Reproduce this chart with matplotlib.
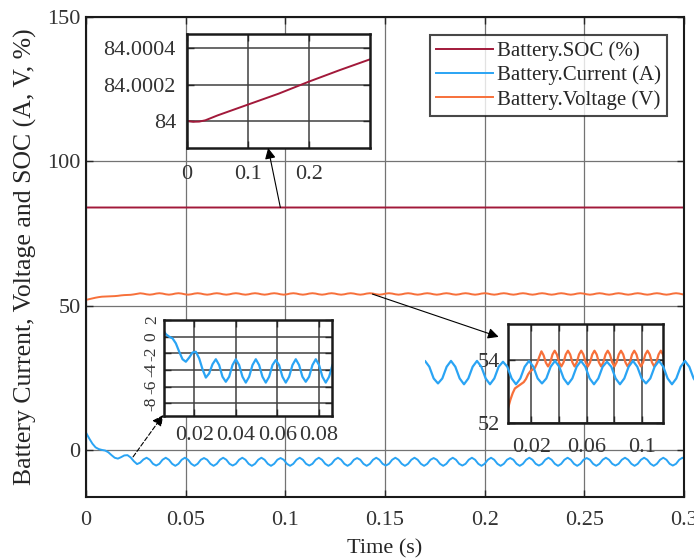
import numpy as np
import matplotlib
matplotlib.use("Agg")
import matplotlib.pyplot as plt

plt.rcParams['font.family'] = ['Liberation Serif', 'DejaVu Serif']

# ---------------- data ----------------
t_step = 0.0016  # sampling interval of the recorded series (s)

current = [
    6.0, 4.0, 2.2, 0.9, 0.3, 0.0, -0.2, -0.8, -1.8, -2.7, -3.0, -2.5, -1.9, -1.8, -2.6, -3.9,
    -4.9, -4.4, -3.3, -2.7, -3.4, -4.8,
    -5.4, -4.8, -3.4, -2.7, -3.4, -4.8,
    -5.5, -4.8, -3.4, -2.7, -3.4, -4.8,
    -5.5, -4.8, -3.4, -2.8, -3.4, -4.8,
    -5.5, -4.8, -3.4, -2.7, -3.4, -4.8,
    -5.4, -4.8, -3.4, -2.7, -3.4, -4.8,
    -5.5, -4.8, -3.4, -2.7, -3.4, -4.8,
    -5.5, -4.8, -3.4, -2.8, -3.4, -4.8,
    -5.5, -4.8, -3.4, -2.7, -3.4, -4.8,
    -5.4, -4.8, -3.4, -2.7, -3.4, -4.8,
    -5.5, -4.8, -3.4, -2.7, -3.4, -4.8,
    -5.5, -4.8, -3.4, -2.8, -3.4, -4.8,
    -5.5, -4.8, -3.4, -2.7, -3.4, -4.8,
    -5.4, -4.8, -3.4, -2.7, -3.4, -4.8,
    -5.5, -4.8, -3.4, -2.7, -3.4, -4.8,
    -5.5, -4.8, -3.4, -2.8, -3.4, -4.8,
    -5.5, -4.8, -3.4, -2.7, -3.4, -4.8,
    -5.4, -4.8, -3.4, -2.7, -3.4, -4.8,
    -5.5, -4.8, -3.4, -2.7, -3.4, -4.8,
    -5.5, -4.8, -3.4, -2.8, -3.4, -4.8,
    -5.5, -4.8, -3.4, -2.7, -3.4, -4.8,
    -5.4, -4.8, -3.4, -2.7, -3.4, -4.8,
    -5.5, -4.8, -3.4, -2.7, -3.4, -4.8,
    -5.5, -4.8, -3.4, -2.8, -3.4, -4.8,
    -5.5, -4.8, -3.4, -2.7, -3.4, -4.8,
    -5.4, -4.8, -3.4, -2.7, -3.4, -4.8,
    -5.5, -4.8, -3.4, -2.7, -3.4, -4.8,
    -5.5, -4.8, -3.4, -2.7, -3.4, -4.8,
    -5.4, -4.8, -3.4, -2.7, -3.4, -4.8,
    -5.5, -4.8, -3.4, -2.7, -3.4,
]

voltage = [
    52.0, 52.25, 52.5, 52.75, 52.95, 53.1, 53.15, 53.2, 53.25, 53.3, 53.4, 53.55, 53.65, 53.7, 53.75, 53.9,
    54.1,
    54.28, 54.15, 53.92, 53.8, 53.93, 54.18,
    54.3, 54.18, 53.93, 53.8, 53.93, 54.18,
    54.3, 54.18, 53.93, 53.8, 53.93, 54.18,
    54.3, 54.18, 53.93, 53.8, 53.93, 54.18,
    54.3, 54.18, 53.93, 53.8, 53.93, 54.18,
    54.3, 54.18, 53.93, 53.8, 53.93, 54.18,
    54.3, 54.18, 53.93, 53.8, 53.93, 54.18,
    54.3, 54.18, 53.93, 53.8, 53.93, 54.18,
    54.3, 54.18, 53.93, 53.8, 53.93, 54.18,
    54.3, 54.18, 53.93, 53.8, 53.93, 54.18,
    54.3, 54.18, 53.93, 53.8, 53.93, 54.18,
    54.3, 54.18, 53.93, 53.8, 53.93, 54.18,
    54.3, 54.18, 53.93, 53.8, 53.93, 54.18,
    54.3, 54.18, 53.93, 53.8, 53.93, 54.18,
    54.3, 54.18, 53.93, 53.8, 53.93, 54.18,
    54.3, 54.18, 53.93, 53.8, 53.93, 54.18,
    54.3, 54.18, 53.93, 53.8, 53.93, 54.18,
    54.3, 54.18, 53.93, 53.8, 53.93, 54.18,
    54.3, 54.18, 53.93, 53.8, 53.93, 54.18,
    54.3, 54.18, 53.93, 53.8, 53.93, 54.18,
    54.3, 54.18, 53.93, 53.8, 53.93, 54.18,
    54.3, 54.18, 53.93, 53.8, 53.93, 54.18,
    54.3, 54.18, 53.93, 53.8, 53.93, 54.18,
    54.3, 54.18, 53.93, 53.8, 53.93, 54.18,
    54.3, 54.18, 53.93, 53.8, 53.93, 54.18,
    54.3, 54.18, 53.93, 53.8, 53.93, 54.18,
    54.3, 54.18, 53.93, 53.8, 53.93, 54.18,
    54.3, 54.18, 53.93, 53.8, 53.93, 54.18,
    54.3, 54.18, 53.93, 53.8,
]

soc_time = [0.0, 0.01, 0.02, 0.03, 0.05, 0.1, 0.15, 0.2, 0.25, 0.3]
soc = [84.0, 83.999995, 83.999996, 84.000003, 84.00003, 84.00009, 84.00015, 84.000217, 84.00028, 84.00034]

series_names = ['Battery.SOC (%)', 'Battery.Current (A)', 'Battery.Voltage (V)']

main_xticks = [0, 0.05, 0.1, 0.15, 0.2, 0.25, 0.3]
main_xticklabels = ['0', '0.05', '0.1', '0.15', '0.2', '0.25', '0.3']
main_yticks = [0, 50, 100, 150]

ins1_xticks = [0, 0.1, 0.2]
ins1_xticklabels = ['0', '0.1', '0.2']
ins1_yticks = [84.0, 84.0002, 84.0004]
ins1_yticklabels = ['84', '84.0002', '84.0004']

ins2_xticks = [0.02, 0.04, 0.06, 0.08]
ins2_xticklabels = ['0.02', '0.04', '0.06', '0.08']
ins2_yticks = [2, 0, -2, -4, -6, -8]
ins2_yticklabels = ['2', '0', '-2', '-4', '-6', '-8']

ins3_xticks = [0.02, 0.04, 0.06, 0.08, 0.1]
ins3_xticklabels = ['0.02', '', '0.06', '', '0.1']
ins3_yticks = [52, 54]
ins3_yticklabels = ['52', '54']

t = np.arange(len(current)) * t_step
tv = np.arange(len(voltage)) * t_step

c_soc = '#A2193A'
c_cur = '#2AA4F4'
c_vol = '#F7703A'

W, H = 694, 559
fig = plt.figure(figsize=(W / 100, H / 100), dpi=100)


def px_rect(x0, y0, x1, y1):
    return [x0 / W, (H - y1) / H, (x1 - x0) / W, (y1 - y0) / H]


def style_axes(a, lw=1.5, gridc='0.45', gridlw=0.9):
    for s in a.spines.values():
        s.set_linewidth(lw)
        s.set_color('0.1')
    a.tick_params(direction='in', top=True, right=True, length=5, width=1.0,
                  colors='0.15', labelcolor='0.2')
    a.grid(True, color=gridc, linewidth=gridlw)
    a.set_axisbelow(True)


# ---------------- main axes ----------------
ax = fig.add_axes(px_rect(86, 17, 684, 497))
ax.plot(soc_time, soc, color=c_soc, lw=1.4, label=series_names[0])
ax.plot(t, current, color=c_cur, lw=1.4, label=series_names[1])
ax.plot(tv, voltage, color=c_vol, lw=1.4, label=series_names[2])
ax.set_xlim(0, 0.3)
ax.set_ylim(-16.3, 150)
ax.set_xticks(main_xticks)
ax.set_xticklabels(main_xticklabels)
ax.set_yticks(main_yticks)
style_axes(ax)
ax.tick_params(labelsize=16)
ax.tick_params(axis='x', pad=10)
ax.tick_params(axis='y', pad=4)
ax.set_xlabel('Time (s)', fontsize=16, color='0.15', labelpad=7)
ax.set_ylabel('Battery Current, Voltage and SOC (A, V, %)', fontsize=18.5, color='0.15', labelpad=7)
leg = ax.legend(loc='upper right', bbox_to_anchor=(0.9716, 0.9625), fontsize=15,
                frameon=True, fancybox=False, handlelength=2.7, borderaxespad=0,
                handletextpad=0.2, labelspacing=0.22, borderpad=0.3)
leg.get_frame().set_edgecolor('0.1')
leg.get_frame().set_linewidth(1.5)
for txt in leg.get_texts():
    txt.set_color('0.15')

# ---------------- inset 1 : SOC ----------------
ins1 = fig.add_axes(px_rect(187, 34, 370, 148))
ins1.plot(soc_time, soc, color=c_soc, lw=1.4)
ins1.set_xlim(0, 0.3)
ins1.set_ylim(83.99985, 84.00048)
ins1.set_xticks(ins1_xticks)
ins1.set_xticklabels(ins1_xticklabels)
ins1.set_yticks(ins1_yticks)
ins1.set_yticklabels(ins1_yticklabels)
style_axes(ins1, lw=1.8, gridc='0.25', gridlw=1.1)
ins1.tick_params(labelsize=16)
ins1.tick_params(axis='x', pad=12)
ins1.tick_params(axis='y', pad=8)

# ---------------- inset 2 : Current ----------------
ins2 = fig.add_axes(px_rect(164, 320, 332, 416))
ins2.plot(t, current, color=c_cur, lw=1.6)
ins2.set_xlim(0.0055, 0.0862)
ins2.set_ylim(-9.5, 2)
ins2.set_xticks(ins2_xticks)
ins2.set_xticklabels(ins2_xticklabels)
ins2.set_yticks(ins2_yticks)
ins2.set_yticklabels(ins2_yticklabels, rotation=90, va='center')
style_axes(ins2, lw=1.8, gridc='0.25', gridlw=1.1)
ins2.tick_params(axis='x', labelsize=16, pad=7)
ins2.tick_params(axis='y', labelsize=12.5, pad=3)

# ---------------- inset 3 : Voltage ----------------
ins3 = fig.add_axes(px_rect(508, 324, 663, 423))
ins3.plot(tv, voltage, color=c_vol, lw=1.6)
ins3.set_xlim(0.003, 0.1152)
ins3.set_ylim(52, 55.15)
ins3.set_xticks(ins3_xticks)
ins3.set_xticklabels(ins3_xticklabels)
ins3.set_yticks(ins3_yticks)
ins3.set_yticklabels(ins3_yticklabels)
style_axes(ins3, lw=1.8, gridc='0.25', gridlw=1.1)
ins3.tick_params(labelsize=16)
ins3.tick_params(axis='x', pad=11)
ins3.tick_params(axis='y', pad=6)

# ---------------- overlaid current trace (stray copy) ----------------
ghost = fig.add_axes(px_rect(425, 320, 700, 416))
ghost.plot(t, current, color=c_cur, lw=1.6)
ghost.set_xlim(0.0304, 0.0304 + 275 / 2708)
ghost.set_ylim(-9.3, 2.2)
ghost.axis('off')
ghost.patch.set_alpha(0)

# ---------------- arrows ----------------
ins1.annotate('', xy=(0.133, 83.99985), xycoords=ins1.transData,
              xytext=(0.0975, 84.0), textcoords=ax.transData,
              arrowprops=dict(arrowstyle='-|>', color='k', lw=0.8, mutation_scale=16,
                              shrinkA=0, shrinkB=0),
              annotation_clip=False)
ins3.annotate('', xy=(-0.06, 0.87), xycoords=ins3.transAxes,
              xytext=(0.1437, 54.0), textcoords=ax.transData,
              arrowprops=dict(arrowstyle='-|>', color='k', lw=0.8, mutation_scale=16,
                              shrinkA=0, shrinkB=0),
              annotation_clip=False)
ins2.annotate('', xy=(-0.005, 0.01), xycoords=ins2.transAxes,
              xytext=(0.0236, -2.4), textcoords=ax.transData,
              arrowprops=dict(arrowstyle='-|>', color='k', lw=0.8, mutation_scale=16,
                              linestyle=(0, (4, 2)), shrinkA=0, shrinkB=0),
              annotation_clip=False)

fig.savefig('out.png', dpi=100)
